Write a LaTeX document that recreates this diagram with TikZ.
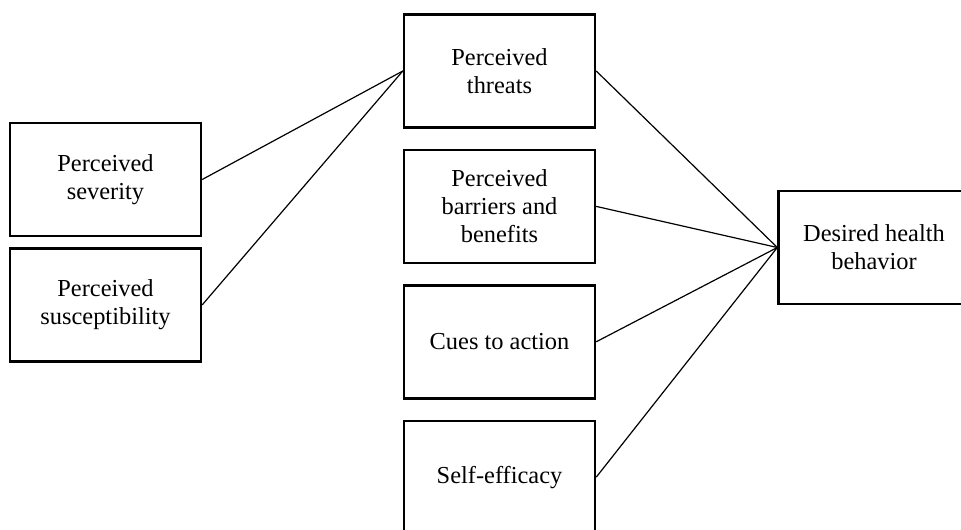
\documentclass[tikz,border=0pt]{standalone}
\usepackage{fontspec}
\setmainfont{Liberation Serif}
\usetikzlibrary{positioning}

\begin{document}
\begin{tikzpicture}[x=0.5pt, y=-0.5pt, node distance=10pt,
  font=\fontsize{12.2}{14}\selectfont,
  box/.style={draw, line width=1.2pt, minimum width=95.5pt, minimum height=56.5pt,
              inner sep=2pt, align=center},
  link/.style={line width=0.6pt}]
\useasboundingbox (0,0) rectangle (961,529);
\clip (0,0) rectangle (961,529);

\node[box] (threats) at (499.5,71) {Perceived\\threats};
\node[box, below=of threats] (barriers) {Perceived\\barriers and\\benefits};
\node[box, below=of barriers] (cues) {Cues to action};
\node[box, below=of cues] (efficacy) {Self-efficacy};

\node[box] (severity) at (105.5,179.5) {Perceived\\severity};
\node[box, below=5pt of severity] (suscept) {Perceived\\susceptibility};

\node[box] (behavior) at (874,247.5) {Desired health\\behavior};

\draw[link] (severity.east) -- (threats.west);
\draw[link] (suscept.east) -- (threats.west);
\draw[link] (threats.east) -- (behavior.west);
\draw[link] (barriers.east) -- (behavior.west);
\draw[link] (cues.east) -- (behavior.west);
\draw[link] (efficacy.east) -- (behavior.west);
\end{tikzpicture}
\end{document}
